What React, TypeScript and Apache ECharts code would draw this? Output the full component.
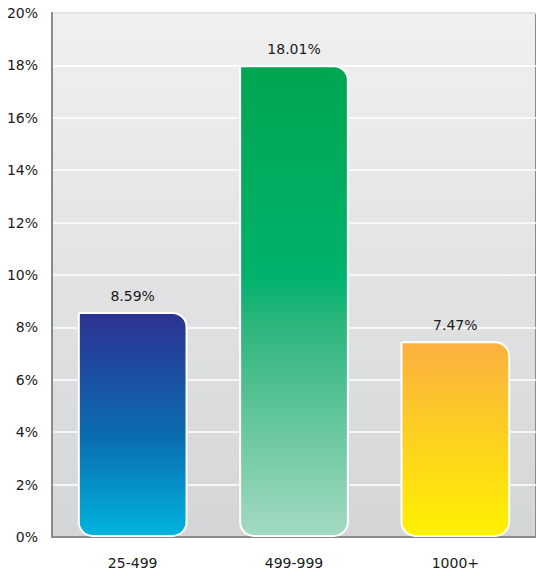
import React, { useEffect, useRef } from "react";
import * as echarts from "echarts";

const categories = ["25-499", "499-999", "1000+"];
const values = [8.59, 18.01, 7.47];
const yTicks = { min: 0, max: 20, interval: 2 };

const barGradients = [
  [
    { offset: 0, color: "#2e3192" },
    { offset: 0.55, color: "#0a6cb0" },
    { offset: 1, color: "#00b4de" },
  ],
  [
    { offset: 0, color: "#00a651" },
    { offset: 0.45, color: "#00b26c" },
    { offset: 0.55, color: "#2db57c" },
    { offset: 1, color: "#a4dac2" },
  ],
  [
    { offset: 0, color: "#fbb040" },
    { offset: 1, color: "#fff200" },
  ],
];

const FONT = "DejaVu Sans";

export default function App() {
  const ref = useRef<HTMLDivElement>(null);

  useEffect(() => {
    document.body.style.margin = "0";
    const chart = echarts.init(ref.current!, null, { renderer: "svg" });
    chart.setOption({
      animation: false,
      grid: {
        left: 52,
        right: -2,
        top: 13,
        bottom: 39,
        show: true,
        borderColor: "#8a8a8a",
        borderWidth: 2,
        backgroundColor: new echarts.graphic.LinearGradient(0, 0, 0, 1, [
          { offset: 0, color: "#f0f0f0" },
          { offset: 1, color: "#d4d5d7" },
        ]),
      },
      xAxis: {
        type: "category",
        data: categories,
        axisLine: { show: true, lineStyle: { color: "#8a8a8a", width: 2 } },
        axisTick: { show: false },
        axisLabel: {
          color: "#1a1a1a",
          fontFamily: FONT,
          fontSize: 14,
          margin: 19,
        },
      },
      yAxis: {
        type: "value",
        min: yTicks.min,
        max: yTicks.max,
        interval: yTicks.interval,
        axisLine: { show: true, lineStyle: { color: "#8a8a8a", width: 2 } },
        axisTick: { show: false },
        splitLine: { lineStyle: { color: "#ffffff", width: 1.5 } },
        axisLabel: {
          formatter: "{value}%",
          color: "#1a1a1a",
          fontFamily: FONT,
          fontSize: 14,
          margin: 14,
        },
      },
      series: [
        {
          type: "bar",
          barWidth: "68%",
          data: values.map((v, i) => ({
            value: v,
            itemStyle: {
              color: new echarts.graphic.LinearGradient(0, 0, 0, 1, barGradients[i]),
            },
          })),
          itemStyle: {
            borderColor: "#ffffff",
            borderWidth: 2,
            borderRadius: [0, 14, 14, 14],
          },
          label: {
            show: true,
            position: "top",
            distance: 9,
            formatter: "{c}%",
            color: "#1a1a1a",
            fontFamily: FONT,
            fontSize: 14,
          },
        },
      ],
    });
    return () => chart.dispose();
  }, []);

  return <div ref={ref} style={{ width: 536, height: 576 }} />;
}
